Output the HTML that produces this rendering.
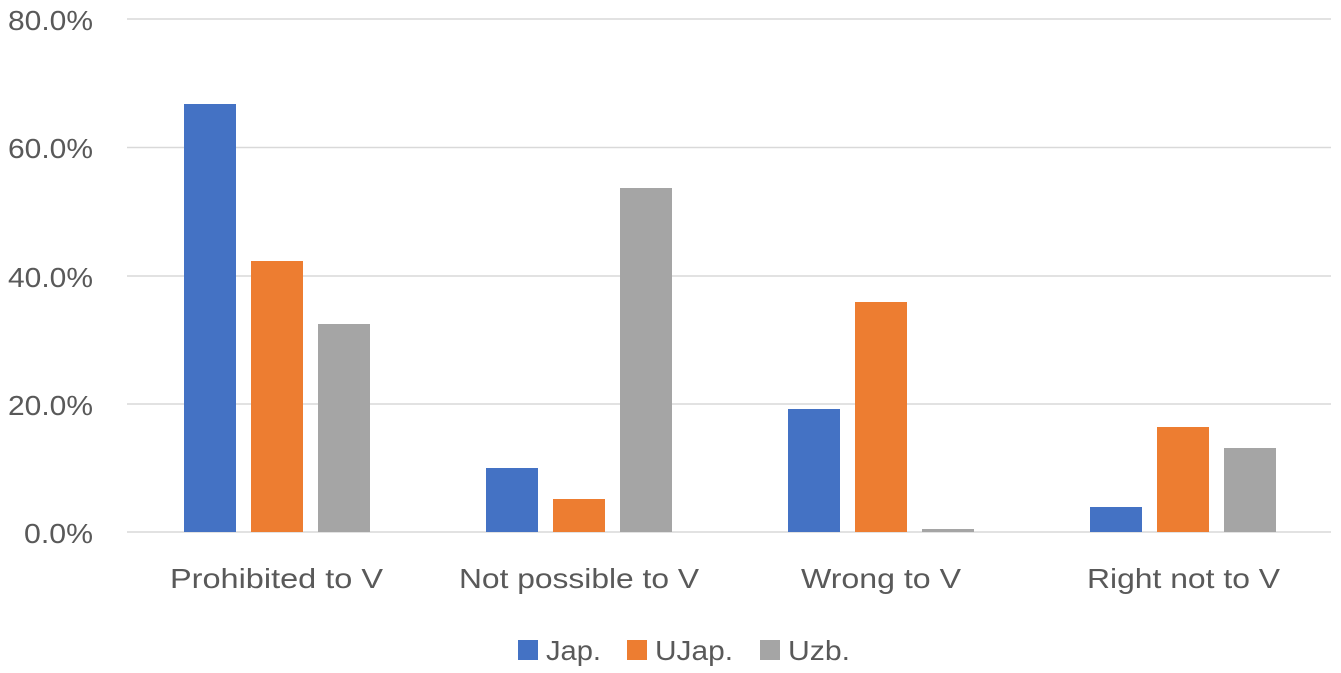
<!DOCTYPE html>
<html><head><meta charset="utf-8"><style>
html,body{margin:0;padding:0;background:#fff;}
svg{display:block;}
text{font-family:"Liberation Sans",sans-serif;fill:#595959;font-size:28px;}
</style></head><body>
<svg width="1341" height="673" viewBox="0 0 1341 673">
<g stroke="#d9d9d9" stroke-width="1.5">
<line x1="127" x2="1331" y1="19" y2="19"/>
<line x1="127" x2="1331" y1="147.5" y2="147.5"/>
<line x1="127" x2="1331" y1="276" y2="276"/>
<line x1="127" x2="1331" y1="404" y2="404"/>
<line x1="127" x2="1331" y1="532" y2="532"/>
</g>
<g lengthAdjust="spacingAndGlyphs">
<text x="8" y="30" textLength="85" lengthAdjust="spacingAndGlyphs">80.0%</text>
<text x="8" y="158" textLength="85" lengthAdjust="spacingAndGlyphs">60.0%</text>
<text x="8" y="287" textLength="85" lengthAdjust="spacingAndGlyphs">40.0%</text>
<text x="8" y="415" textLength="85" lengthAdjust="spacingAndGlyphs">20.0%</text>
<text x="24" y="543" textLength="69" lengthAdjust="spacingAndGlyphs">0.0%</text>
</g>
<g fill="#4472c4">
<rect x="184" y="104" width="52" height="428"/>
<rect x="486" y="468" width="52" height="64"/>
<rect x="788" y="409" width="52" height="123"/>
<rect x="1090" y="507" width="52" height="25"/>
</g>
<g fill="#ed7d31">
<rect x="251" y="261" width="52" height="271"/>
<rect x="553" y="499" width="52" height="33"/>
<rect x="855" y="302" width="52" height="230"/>
<rect x="1157" y="427" width="52" height="105"/>
</g>
<g fill="#a5a5a5">
<rect x="318" y="324" width="52" height="208"/>
<rect x="620" y="188" width="52" height="344"/>
<rect x="922" y="529" width="52" height="3"/>
<rect x="1224" y="448" width="52" height="84"/>
</g>
<text x="170" y="588" textLength="213" lengthAdjust="spacingAndGlyphs">Prohibited to V</text>
<text x="459" y="588" textLength="240" lengthAdjust="spacingAndGlyphs">Not possible to V</text>
<text x="801" y="588" textLength="160" lengthAdjust="spacingAndGlyphs">Wrong to V</text>
<text x="1087" y="588" textLength="193" lengthAdjust="spacingAndGlyphs">Right not to V</text>
<rect x="518" y="640" width="20" height="20" fill="#4472c4"/>
<text x="546" y="660" textLength="55" lengthAdjust="spacingAndGlyphs">Jap.</text>
<rect x="627" y="640" width="20" height="20" fill="#ed7d31"/>
<text x="655" y="660" textLength="78" lengthAdjust="spacingAndGlyphs">UJap.</text>
<rect x="760" y="640" width="20" height="20" fill="#a5a5a5"/>
<text x="788" y="660" textLength="62" lengthAdjust="spacingAndGlyphs">Uzb.</text>
</svg>
</body></html>
